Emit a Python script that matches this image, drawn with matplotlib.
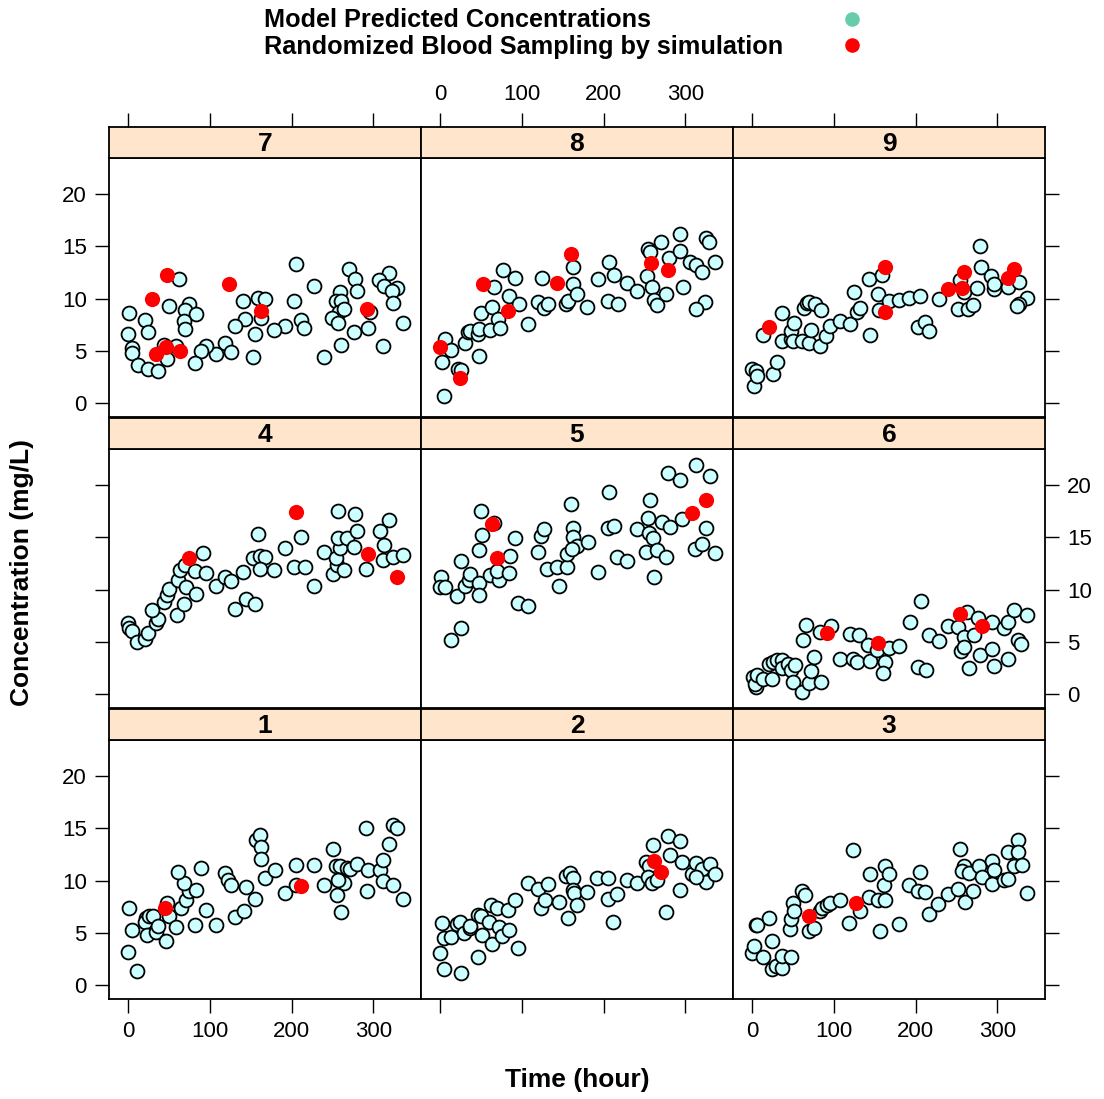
import matplotlib
matplotlib.use("Agg")
import matplotlib.pyplot as plt

plt.rcParams['font.family'] = ['Liberation Sans', 'DejaVu Sans']

# ---- data (time in hours, concentration in mg/L) ----
# subject 7
time_7 = [206, 270, 278, 280, 319, 307, 313, 329, 323, 324, 336, 312, 228, 203, 259, 255,
          260, 258, 264, 250, 257, 276, 293, 296, 261, 240, 211, 215, 192, 179, 141, 159,
          167, 163, 143, 131, 155, 153, 119, 126, 107, 95, 89, 82, 50, 62, 75, 70, 83, 68,
          70, 1, 20, 24, 0, 5, 5, 12, 24, 36, 47, 44, 59]
conc_7 = [13.3, 12.8, 11.9, 10.7, 12.5, 11.8, 11.2, 11.0, 10.7, 9.6, 7.7, 5.5, 11.2, 9.8,
          10.6, 9.8, 9.8, 8.7, 9.0, 8.2, 7.7, 6.8, 7.2, 8.7, 5.6, 4.4, 8.0, 7.2, 7.4, 7.0,
          9.8, 10.1, 10.0, 8.2, 8.1, 7.4, 6.6, 4.4, 5.8, 4.9, 4.7, 5.5, 5.0, 3.9, 9.3, 11.9,
          9.5, 8.9, 8.5, 7.9, 7.1, 8.6, 8.0, 6.8, 6.6, 5.3, 4.8, 3.7, 3.3, 3.1, 4.2, 5.6, 5.5]
samp_time_7 = [48, 29, 123, 162, 292, 34, 46, 64]
samp_conc_7 = [12.3, 10.0, 11.4, 8.8, 9.0, 4.7, 5.4, 5.0]

# subject 8
time_8 = [5, 2, 6, 13, 22, 25, 30, 34, 36, 46, 48, 48, 50, 61, 63, 66, 71, 73, 77, 84, 91,
          97, 108, 120, 125, 127, 132, 154, 156, 162, 168, 163, 180, 193, 207, 205, 213, 218,
          229, 241, 255, 257, 253, 259, 262, 266, 270, 280, 277, 293, 293, 297, 306, 313,
          321, 325, 329, 337, 324, 313]
conc_8 = [0.7, 4.0, 6.2, 5.1, 3.3, 3.2, 5.8, 6.8, 6.9, 6.6, 7.1, 4.5, 8.6, 7.0, 9.2, 11.1,
          8.1, 7.2, 12.7, 10.3, 12.0, 9.5, 7.6, 9.7, 12.0, 9.1, 9.5, 9.5, 9.8, 11.4, 10.5,
          13.0, 9.2, 11.9, 13.5, 9.8, 12.3, 9.5, 11.5, 10.7, 14.8, 14.5, 12.2, 11.1, 9.9, 9.4,
          15.4, 13.9, 10.5, 16.2, 14.6, 11.1, 13.5, 13.2, 12.6, 15.8, 15.4, 13.5, 9.7, 9.0]
samp_time_8 = [0, 24, 52, 83, 143, 160, 258, 279]
samp_conc_8 = [5.4, 2.4, 11.4, 8.8, 11.5, 14.3, 13.4, 12.7]

# subject 9
time_9 = [2, 0, 5, 6, 25, 30, 13, 36, 36, 47, 48, 50, 51, 61, 63, 67, 70, 69, 72, 77, 84,
          83, 90, 95, 108, 120, 125, 128, 132, 144, 143, 159, 154, 155, 167, 180, 192, 206,
          203, 212, 216, 229, 279, 280, 292, 255, 259, 275, 296, 313, 327, 337, 327, 324,
          252, 264, 270, 296]
conc_9 = [1.7, 3.3, 3.1, 2.6, 2.8, 4.0, 6.5, 8.6, 6.0, 6.2, 6.9, 6.0, 7.7, 6.0, 9.1, 9.6,
          9.7, 5.8, 7.0, 9.5, 8.9, 5.5, 6.4, 7.4, 7.9, 7.6, 10.6, 8.7, 9.1, 6.5, 11.9, 12.3,
          10.5, 8.9, 9.8, 9.9, 10.1, 10.3, 7.3, 7.8, 6.9, 10.0, 15.0, 13.0, 12.2, 11.8, 10.6,
          11.0, 10.9, 11.1, 11.6, 10.1, 9.5, 9.3, 9.0, 9.0, 9.4, 11.4]
samp_time_9 = [21, 162, 163, 240, 259, 257, 313, 320]
samp_conc_9 = [7.3, 13.0, 8.7, 10.9, 12.6, 11.0, 12.0, 12.8]

# subject 4
time_4 = [0, 1, 5, 11, 20, 24, 34, 36, 29, 44, 47, 50, 60, 68, 61, 63, 69, 71, 83, 82, 91,
          95, 107, 119, 126, 131, 144, 155, 141, 153, 159, 161, 167, 161, 179, 192, 203, 216,
          211, 228, 240, 251, 256, 254, 259, 257, 264, 268, 276, 280, 278, 257, 291, 308,
          313, 319, 312, 324, 336]
conc_4 = [6.8, 6.3, 6.1, 5.0, 5.3, 5.9, 6.8, 7.2, 8.1, 8.8, 9.5, 10.1, 7.6, 8.6, 10.9, 11.9,
          12.4, 10.3, 9.6, 11.8, 13.5, 11.6, 10.4, 11.2, 10.8, 8.2, 9.1, 8.6, 11.7, 13.0, 15.3,
          13.2, 13.1, 12.0, 11.9, 14.0, 12.2, 12.2, 15.0, 10.4, 13.6, 11.5, 12.4, 13.0, 14.0,
          14.9, 11.9, 14.9, 14.1, 15.6, 17.2, 17.5, 12.0, 15.6, 14.3, 16.7, 12.8, 13.1, 13.3]
samp_time_4 = [75, 205, 293, 329]
samp_conc_4 = [13.0, 17.4, 13.4, 11.2]

# subject 5
time_5 = [13, 25, 1, 0, 6, 21, 25, 30, 35, 37, 47, 48, 47, 50, 51, 66, 61, 72, 69, 84, 85,
          91, 95, 108, 120, 124, 127, 131, 143, 145, 155, 155, 160, 162, 163, 167, 181, 161,
          193, 207, 205, 213, 217, 229, 241, 252, 255, 257, 256, 261, 265, 262, 271, 277,
          281, 279, 293, 296, 313, 330, 325, 312, 321, 336]
conc_5 = [5.2, 6.3, 11.2, 10.3, 10.3, 9.4, 12.7, 10.4, 10.9, 11.5, 10.6, 9.5, 13.8, 17.5,
          15.2, 16.4, 11.4, 10.9, 11.8, 11.6, 13.2, 14.9, 8.7, 8.4, 13.6, 15.1, 15.8, 12.0,
          12.2, 10.4, 12.2, 13.4, 18.2, 15.9, 15.0, 14.2, 14.6, 13.9, 11.7, 19.3, 15.9, 16.1,
          13.1, 12.7, 15.8, 13.6, 16.9, 18.6, 15.4, 14.9, 13.8, 11.2, 16.5, 13.1, 16.0, 21.2,
          20.5, 16.8, 21.9, 20.9, 15.9, 13.9, 14.4, 13.5]
samp_time_5 = [63, 70, 308, 326]
samp_conc_5 = [16.3, 13.0, 17.3, 18.6]

# subject 6
time_6 = [1, 5, 3, 6, 13, 24, 20, 25, 30, 36, 36, 44, 48, 50, 52, 61, 70, 72, 84, 76, 62,
          66, 83, 97, 108, 120, 131, 124, 128, 142, 144, 153, 163, 160, 167, 180, 193, 207,
          203, 213, 217, 229, 240, 252, 263, 259, 256, 259, 265, 271, 277, 279, 293, 293,
          296, 308, 313, 320, 313, 325, 329, 336]
conc_6 = [1.7, 0.7, 1.0, 1.9, 1.5, 1.5, 2.9, 3.1, 3.3, 3.3, 2.5, 2.9, 2.3, 1.2, 2.8, 0.2,
          1.1, 2.2, 1.2, 3.6, 5.2, 6.6, 6.0, 6.5, 3.4, 5.8, 5.7, 3.4, 3.1, 4.7, 3.2, 4.2, 3.1,
          2.0, 4.4, 4.6, 6.9, 8.9, 2.6, 2.3, 5.7, 5.1, 6.5, 6.4, 7.9, 5.5, 4.1, 4.5, 2.5, 5.7,
          7.3, 3.8, 6.9, 4.3, 2.7, 6.3, 6.9, 8.1, 3.4, 5.2, 4.8, 7.6]
samp_time_6 = [91, 154, 255, 281]
samp_conc_6 = [5.9, 4.9, 7.7, 6.5]

# subject 1
time_1 = [0, 11, 1, 5, 22, 20, 26, 23, 30, 34, 36, 46, 47, 50, 59, 65, 71, 74, 68, 61, 83,
          89, 82, 95, 107, 119, 122, 126, 131, 142, 144, 155, 157, 161, 163, 162, 167, 180,
          192, 206, 205, 228, 240, 251, 255, 259, 264, 257, 256, 261, 268, 272, 280, 291,
          294, 292, 308, 312, 319, 312, 324, 324, 329, 336]
conc_1 = [3.2, 1.4, 7.4, 5.3, 6.4, 6.1, 6.6, 4.8, 6.6, 5.1, 5.7, 4.2, 7.9, 6.6, 5.6, 7.4,
          8.2, 9.0, 9.8, 10.8, 9.1, 11.2, 5.8, 7.2, 5.8, 10.7, 10.1, 9.6, 6.5, 7.1, 9.4, 8.3,
          13.9, 14.4, 13.2, 12.1, 10.3, 11.0, 8.8, 11.5, 9.6, 11.5, 9.6, 13.0, 11.4, 11.4, 9.8,
          10.1, 8.6, 7.0, 11.2, 11.1, 11.6, 15.0, 11.0, 9.0, 11.0, 12.0, 13.5, 10.0, 9.6, 15.3,
          15.0, 8.3]
samp_time_1 = [45, 211]
samp_conc_1 = [7.4, 9.5]

# subject 2
time_2 = [0, 5, 25, 2, 5, 13, 21, 24, 29, 36, 36, 46, 50, 51, 46, 60, 62, 64, 70, 72, 76,
          84, 83, 91, 95, 108, 120, 124, 128, 132, 145, 156, 154, 159, 162, 163, 164, 168,
          180, 192, 205, 206, 217, 212, 229, 241, 252, 256, 261, 255, 259, 266, 277, 279,
          281, 293, 293, 296, 308, 313, 320, 325, 330, 337, 313]
conc_2 = [3.1, 1.6, 1.2, 6.0, 4.5, 4.6, 5.9, 6.1, 5.0, 5.5, 5.7, 6.7, 6.6, 4.8, 2.7, 6.1,
          7.7, 4.0, 7.4, 5.6, 4.7, 5.3, 7.2, 8.2, 3.6, 9.8, 9.2, 7.4, 8.2, 9.7, 8.0, 6.4, 10.5,
          10.7, 10.3, 9.1, 8.8, 7.7, 8.9, 10.3, 10.3, 8.3, 8.7, 6.1, 10.1, 9.8, 11.8, 11.4,
          13.4, 10.4, 9.8, 10.1, 7.0, 14.3, 12.5, 13.8, 9.1, 11.8, 10.6, 11.7, 11.1, 9.9, 11.6,
          10.6, 10.4]
samp_time_2 = [262, 270]
samp_conc_2 = [11.9, 10.8]

# subject 3
time_3 = [0, 2, 13, 24, 29, 36, 37, 47, 24, 5, 6, 21, 46, 48, 50, 51, 61, 65, 70, 76, 83,
          86, 91, 95, 108, 119, 124, 132, 143, 144, 154, 161, 163, 167, 162, 156, 180, 192,
          206, 203, 212, 216, 228, 240, 252, 255, 259, 257, 261, 265, 270, 278, 281, 293,
          296, 293, 308, 313, 313, 325, 326, 320, 330, 336]
conc_3 = [3.1, 3.8, 2.7, 1.6, 1.9, 1.7, 2.8, 2.7, 4.2, 5.8, 5.8, 6.4, 5.4, 6.3, 7.9, 7.1,
          9.0, 8.6, 5.2, 5.5, 7.1, 7.4, 7.7, 7.9, 8.2, 6.0, 12.9, 7.1, 8.4, 10.6, 8.2, 9.6,
          11.4, 10.6, 8.2, 5.2, 5.9, 9.6, 10.8, 9.0, 8.9, 6.8, 7.8, 8.7, 9.2, 13.0, 11.4, 10.9,
          8.0, 10.7, 9.0, 11.4, 10.4, 11.9, 11.0, 9.7, 10.1, 10.2, 12.7, 13.9, 12.7, 11.4, 11.5,
          8.8]
samp_time_3 = [69, 127]
samp_conc_3 = [6.6, 7.9]

panels = {
    1: (time_1, conc_1, samp_time_1, samp_conc_1),
    2: (time_2, conc_2, samp_time_2, samp_conc_2),
    3: (time_3, conc_3, samp_time_3, samp_conc_3),
    4: (time_4, conc_4, samp_time_4, samp_conc_4),
    5: (time_5, conc_5, samp_time_5, samp_conc_5),
    6: (time_6, conc_6, samp_time_6, samp_conc_6),
    7: (time_7, conc_7, samp_time_7, samp_conc_7),
    8: (time_8, conc_8, samp_time_8, samp_conc_8),
    9: (time_9, conc_9, samp_time_9, samp_conc_9),
}
grid = [[7, 8, 9], [4, 5, 6], [1, 2, 3]]

x_ticks = [0, 100, 200, 300]
y_ticks = [0, 5, 10, 15, 20]
xlim = (-23.5, 358.5)
ylim = (-1.3, 23.45)

# ---- layout in pixels ----
W, H = 1104, 1099
col_left = [109, 421, 733]
col_w = 312
strip_top = [127, 418, 709]
strip_h = 31
panel_h = 259

fill_pred = '#CCFFFF'
col_samp = '#FF0000'
strip_col = '#FFE5CC'
tick_fs = 16
lw = 1.3


def rect(x0, y0, w, h):
    return [x0 / W, 1 - (y0 + h) / H, w / W, h / H]


fig = plt.figure(figsize=(W / 100, H / 100), dpi=100)

for r, row in enumerate(grid):
    for c, pid in enumerate(row):
        t, y, st, sy = panels[pid]
        ax = fig.add_axes(rect(col_left[c], strip_top[r] + strip_h, col_w, panel_h))
        ax.scatter(t, y, s=100, facecolor=fill_pred, edgecolor='black', linewidths=1.3, zorder=2)
        ax.scatter(st, sy, s=120, color=col_samp, linewidths=0, zorder=3)
        ax.set_xlim(*xlim)
        ax.set_ylim(*ylim)
        for sp in ax.spines.values():
            sp.set_linewidth(lw)

        ax.set_xticks(x_ticks)
        ax.set_yticks(y_ticks)
        ax.tick_params(direction='out', length=10, width=1, labelsize=tick_fs, pad=6,
                       bottom=(r == 2), labelbottom=(r == 2 and c != 1),
                       left=(c == 0), labelleft=(c == 0 and r != 1),
                       right=(c == 2), labelright=(c == 2 and r == 1),
                       top=False, labeltop=False)

        # strip
        sax = fig.add_axes(rect(col_left[c], strip_top[r], col_w, strip_h))
        sax.set_facecolor(strip_col)
        sax.set_xlim(*xlim)
        sax.set_ylim(0, 1)
        for sp in sax.spines.values():
            sp.set_linewidth(lw)
        sax.set_yticks([])
        if r == 0:
            sax.set_xticks(x_ticks)
            sax.tick_params(direction='out', length=10, width=1, labelsize=tick_fs, pad=6,
                            bottom=False, labelbottom=False,
                            top=True, labeltop=(c == 1))
        else:
            sax.set_xticks([])
        sax.text(0.5, 0.45, str(pid), transform=sax.transAxes, ha='center', va='center',
                 fontsize=19, fontweight='bold')

# axis titles
fig.text(577 / W, 1 - 1080 / H, 'Time (hour)', ha='center', va='center', fontsize=19,
         fontweight='bold')
fig.text(22 / W, 1 - 572 / H, 'Concentration (mg/L)', ha='center', va='center',
         rotation=90, fontsize=19, fontweight='bold')

# key at the top
fig.text(264 / W, 1 - 20 / H, 'Model Predicted Concentrations', ha='left', va='center',
         fontsize=18.2, fontweight='bold')
fig.text(264 / W, 1 - 47 / H, 'Randomized Blood Sampling by simulation', ha='left',
         va='center', fontsize=18.2, fontweight='bold')
kax = fig.add_axes([0, 0, 1, 1], facecolor='none')
kax.set_axis_off()
kax.set_xlim(0, W)
kax.set_ylim(H, 0)
kax.scatter([852], [19], s=110, color='#66CDAA', linewidths=0)
kax.scatter([852], [45], s=110, color=col_samp, linewidths=0)

fig.savefig('out.png', dpi=100)
